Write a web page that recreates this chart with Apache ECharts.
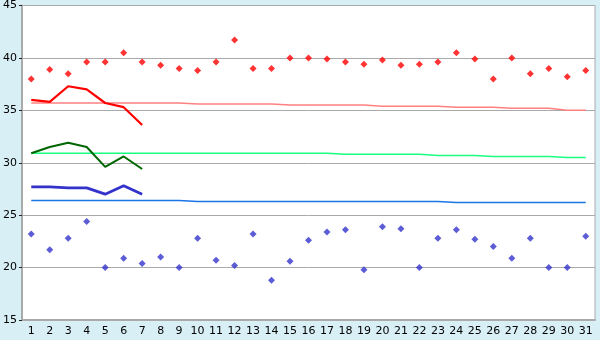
<!DOCTYPE html>
<html>
<head>
<meta charset="utf-8">
<script src="https://cdn.jsdelivr.net/npm/echarts@6/dist/echarts.min.js"></script>
<style>
html,body{margin:0;padding:0;background:#d9eff6;}
#c{width:600px;height:340px;}
</style>
</head>
<body>
<div id="c"></div>
<script>
var days = ['1','2','3','4','5','6','7','8','9','10','11','12','13','14','15','16','17','18','19','20','21','22','23','24','25','26','27','28','29','30','31'];
var maxTemp = [38.0,38.9,38.5,39.6,39.6,40.5,39.6,39.3,39.0,38.8,39.6,41.7,39.0,39.0,40.0,40.0,39.9,39.6,39.4,39.8,39.3,39.4,39.6,40.5,39.9,38.0,40.0,38.5,39.0,38.2,38.8];
var minTemp = [23.2,21.7,22.8,24.4,20.0,20.9,20.4,21.0,20.0,22.8,20.7,20.2,23.2,18.8,20.6,22.6,23.4,23.6,19.8,23.9,23.7,20.0,22.8,23.6,22.7,22.0,20.9,22.8,20.0,20.0,23.0];
var fcMax = [36.0,35.8,37.3,37.0,35.7,35.3,33.6];
var fcAvg = [30.9,31.5,31.9,31.5,29.6,30.6,29.4];
var fcMin = [27.7,27.7,27.6,27.6,27.0,27.8,27.0];
var normMax = [35.7,35.7,35.7,35.7,35.7,35.7,35.7,35.7,35.7,35.6,35.6,35.6,35.6,35.6,35.5,35.5,35.5,35.5,35.5,35.4,35.4,35.4,35.4,35.3,35.3,35.3,35.2,35.2,35.2,35.0,35.0];
var normAvg = [30.9,30.9,30.9,30.9,30.9,30.9,30.9,30.9,30.9,30.9,30.9,30.9,30.9,30.9,30.9,30.9,30.9,30.8,30.8,30.8,30.8,30.8,30.7,30.7,30.7,30.6,30.6,30.6,30.6,30.5,30.5];
var normMin = [26.4,26.4,26.4,26.4,26.4,26.4,26.4,26.4,26.4,26.3,26.3,26.3,26.3,26.3,26.3,26.3,26.3,26.3,26.3,26.3,26.3,26.3,26.3,26.2,26.2,26.2,26.2,26.2,26.2,26.2,26.2];
var yTicks = {min:15, max:45, interval:5};

var chart = echarts.init(document.getElementById('c'), null, {renderer:'canvas'});
var font = 'DejaVu Sans';
function line(data, color, width, z){
  return {type:'line', data:data, symbol:'none', z:z, silent:true,
    lineStyle:{color:color, width:width}, itemStyle:{color:color}};
}
function pts(data, color){
  return {type:'scatter', data:data, symbol:'diamond', symbolSize:7, z:10,
    itemStyle:{color:color}};
}
chart.setOption({
  animation:false,
  backgroundColor:'#d9eff6',
  grid:{left:21, right:5, top:5, bottom:20, show:true, backgroundColor:'#ffffff', borderColor:'#aaaaaa', borderWidth:1},
  xAxis:{type:'category', data:days, boundaryGap:true,
    axisLine:{lineStyle:{color:'#aaaaaa', width:2}},
    axisTick:{alignWithLabel:true, length:5, lineStyle:{color:'#222'}},
    axisLabel:{color:'#000', fontSize:11, fontFamily:font, margin:6, interval:0},
    splitLine:{show:false}},
  yAxis:{type:'value', min:yTicks.min, max:yTicks.max, interval:yTicks.interval,
    axisLine:{show:true, lineStyle:{color:'#aaaaaa', width:2}},
    axisTick:{show:true, length:3, lineStyle:{color:'#222'}},
    axisLabel:{color:'#000', fontSize:11, fontFamily:font, margin:5},
    splitLine:{lineStyle:{color:'#aaaaaa', width:1}}},
  series:[
    line(normMax, '#ff8080', 1.5, 2),
    line(normAvg, '#1aff80', 1.5, 2),
    line(normMin, '#1a75e6', 1.5, 2),
    line(fcMax, '#ff0000', 2.2, 3),
    line(fcAvg, '#006600', 2, 3),
    line(fcMin, '#3333cc', 2.8, 3),
    pts(maxTemp, '#ff0000'),
    pts(minTemp, '#3333cc')
  ]
});
</script>
</body>
</html>
